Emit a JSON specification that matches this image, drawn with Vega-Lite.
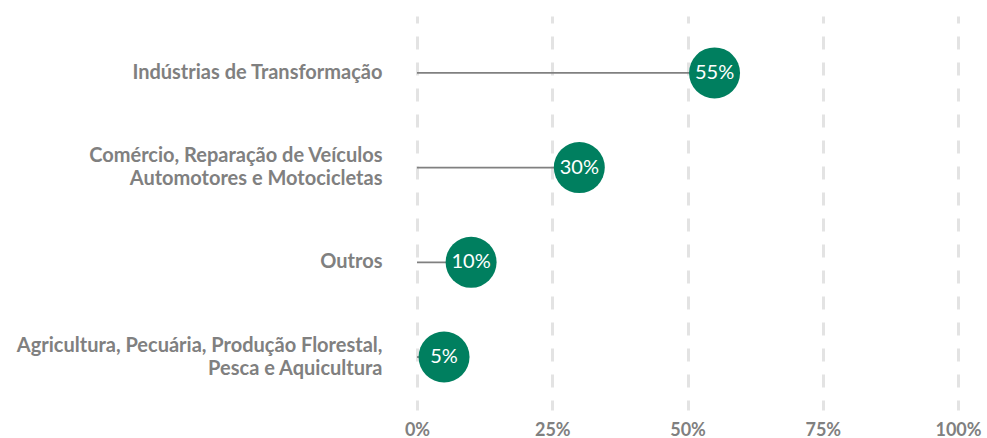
{
  "$schema": "https://vega.github.io/schema/vega-lite/v6.json",
  "width": 541,
  "height": 394,
  "autosize": {"type": "none"},
  "padding": {"left": 417, "top": 16, "right": 29, "bottom": 28},
  "background": "white",
  "config": {"view": {"stroke": null}, "font": "Lato"},
  "data": {
    "values": [
      {"sector": "Indústrias de Transformação", "share": 0.55, "label": "55%"},
      {"sector": "Comércio, Reparação de Veículos|Automotores e Motocicletas", "share": 0.30, "label": "30%"},
      {"sector": "Outros", "share": 0.10, "label": "10%"},
      {"sector": "Agricultura, Pecuária, Produção Florestal,|Pesca e Aquicultura", "share": 0.05, "label": "5%"}
    ]
  },
  "encoding": {
    "y": {
      "field": "sector",
      "type": "nominal",
      "sort": null,
      "scale": {"paddingInner": 0, "paddingOuter": 0.08, "align": 0.63},
      "axis": {
        "title": null,
        "ticks": false,
        "domain": false,
        "labelExpr": "split(datum.label, '|')",
        "labelOffset": {"condition": {"test": "indexof(datum.value, '|') >= 0", "value": -11.5}, "value": 0},
        "labelFont": "Lato",
        "labelFontWeight": "bold",
        "labelFontSize": 20,
        "labelColor": "#808080",
        "labelPadding": 35,
        "labelLineHeight": 23,
        "labelLimit": 600
      }
    },
    "x": {
      "field": "share",
      "type": "quantitative",
      "scale": {"domain": [0, 1]},
      "axis": {
        "title": null,
        "values": [0, 0.25, 0.5, 0.75, 1],
        "format": ".0%",
        "ticks": false,
        "domain": false,
        "grid": true,
        "gridColor": "#e3e3e3",
        "gridWidth": 3,
        "gridDash": [13, 13],
        "gridDashOffset": 3,
        "labelFlush": false,
        "labelFont": "Lato",
        "labelFontWeight": "bold",
        "labelFontSize": 18,
        "labelColor": "#808080",
        "labelPadding": 11
      }
    }
  },
  "layer": [
    {
      "mark": {"type": "rule", "color": "#808080", "strokeWidth": 1.8},
      "encoding": {
        "x2": {"datum": 0}
      }
    },
    {
      "mark": {"type": "circle", "size": 2600, "color": "#007F5F", "opacity": 1},
      "encoding": {}
    },
    {
      "mark": {"type": "text", "color": "white", "font": "Lato", "fontSize": 20, "baseline": "middle", "align": "center"},
      "encoding": {
        "text": {"field": "label"}
      }
    }
  ]
}
